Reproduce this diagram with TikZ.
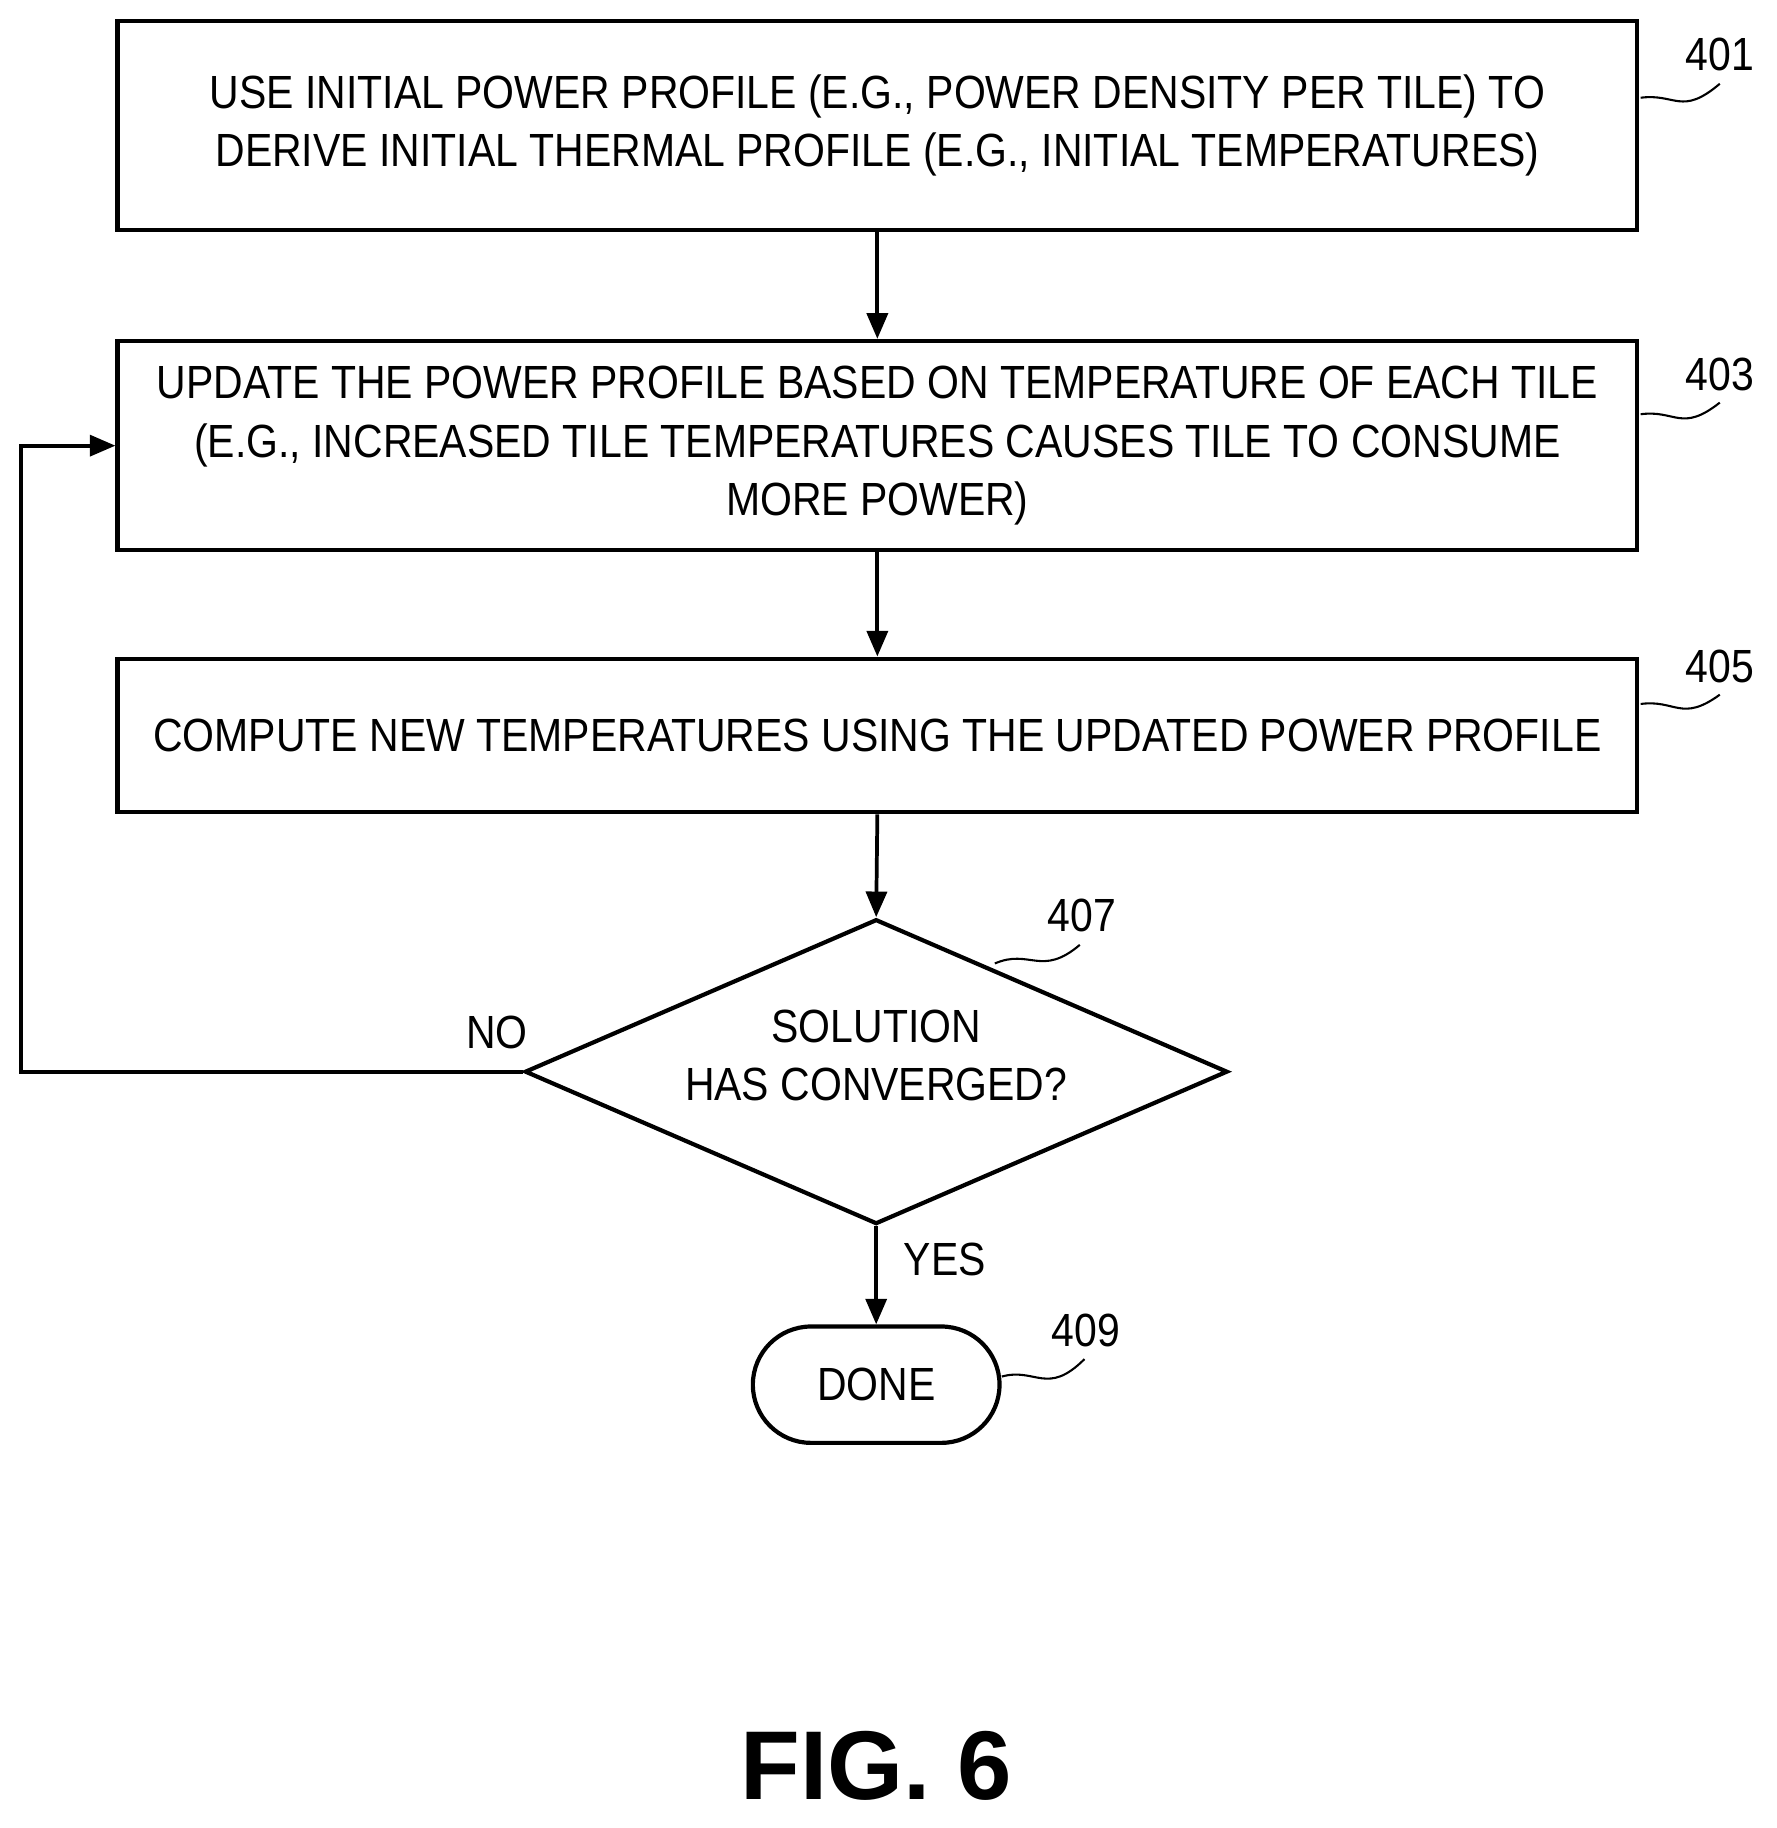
\documentclass[tikz,border=0pt]{standalone}
\usepackage{fontspec}
\setmainfont{Liberation Sans}[FakeStretch=0.88]
\newfontfamily\figfont{Liberation Sans}
\usetikzlibrary{shapes.geometric,arrows.meta}
\begin{document}
\begin{tikzpicture}[x=1pt,y=-1pt,
  box/.style={draw,line width=3.6pt,minimum width=1306pt,align=center,inner sep=0pt},
  txt/.style={font=\fontsize{40}{50}\selectfont},
  arr/.style={line width=3.2pt,-{Triangle[length=22pt,width=18pt]}},
  sq/.style={line width=1.8pt}]
\useasboundingbox (0,0) rectangle (1527,1571);
\node[box,txt,minimum height=180pt] (b401) at (754,108) {USE INITIAL POWER PROFILE (E.G., POWER DENSITY PER TILE) TO\\DERIVE INITIAL THERMAL PROFILE (E.G., INITIAL TEMPERATURES)};
\node[box,txt,minimum height=180pt] (b403) at (754,383) {UPDATE THE POWER PROFILE BASED ON TEMPERATURE OF EACH TILE\\(E.G., INCREASED TILE TEMPERATURES CAUSES TILE TO CONSUME\\MORE POWER)};
\node[box,txt,minimum height=132pt] (b405) at (754,632) {COMPUTE NEW TEMPERATURES USING THE UPDATED POWER PROFILE};
\node[draw,line width=3.6pt,diamond,aspect=2.3,minimum width=604pt,minimum height=262pt,inner sep=0pt] (d407) at (753,921) {};
\node[txt,align=center] (t407) at (753,907) {SOLUTION\\HAS CONVERGED?};
\node[draw,line width=3.6pt,rounded corners=50pt,minimum width=212pt,minimum height=100pt,txt] (done) at (753,1190) {DONE};
\draw[arr] (b401.south) -- (b403.north);
\draw[arr] (b403.south) -- (b405.north);
\draw[arr] (b405.south) -- (d407.north);
\draw[arr] (d407.south) -- (done.north);
\coordinate (c1) at (18,921);
\coordinate (c2) at (18,383);
\draw[arr] (d407.west) -- (c1) -- (c2) -- (b403.west);
\node[txt] (no) at (427,887) {NO};
\node[txt] (yes) at (812,1082) {YES};
\node[txt] (l401) at (1478,47) {401};
\node[txt] (l403) at (1478,322) {403};
\node[txt] (l405) at (1478,573) {405};
\node[txt] (l407) at (930,787) {407};
\node[txt] (l409) at (933,1143) {409};
\draw[sq] (1410,84) .. controls (1440,80) and (1445,100) .. (1478,72);
\draw[sq] (1410,356) .. controls (1440,352) and (1445,372) .. (1478,346);
\draw[sq] (1410,605) .. controls (1440,601) and (1445,621) .. (1478,597);
\draw[sq] (855,828) .. controls (885,815) and (895,840) .. (928,812);
\draw[sq] (861,1183) .. controls (890,1175) and (900,1200) .. (932,1168);
\node[font=\figfont\bfseries\fontsize{84}{88}\selectfont] (fig) at (753,1518) {FIG. 6};
\end{tikzpicture}
\end{document}
